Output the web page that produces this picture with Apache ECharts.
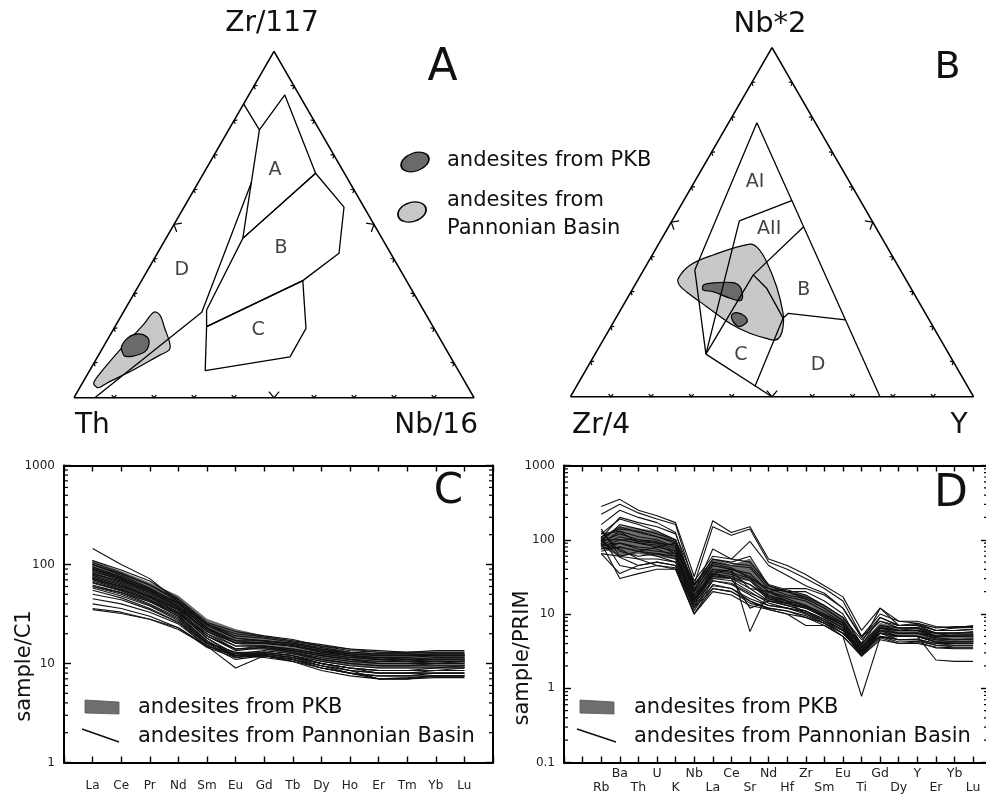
<!DOCTYPE html>
<html><head><meta charset="utf-8">
<script src="https://cdn.jsdelivr.net/npm/echarts@6/dist/echarts.min.js"></script>
<style>html,body{margin:0;padding:0;background:#fff}#c{width:986px;height:796px}</style>
</head><body><div id="c"></div>
<script>
// ---------- Panel A: Zr/117 - Th - Nb/16 (points as [Nb/16 %, Zr/117 %]) ----------
const triTicks = [10, 20, 30, 40, 50, 60, 70, 80, 90];
const aLineTop = [[0, 84.8], [7.7, 77.3]];
const aFieldA = [[7.7, 77.3], [9.0, 87.4], [28.0, 64.8], [19.2, 46.0], [7.7, 77.3]];
const aFieldB = [[19.2, 46.0], [28.0, 64.8], [40.0, 55.0], [45.4, 41.7], [40.3, 33.8], [22.9, 20.5], [20.5, 25.3], [19.2, 46.0]];
const aFieldC = [[22.9, 20.5], [40.3, 33.8], [48.0, 20.0], [48.1, 11.8], [28.9, 7.8], [22.9, 20.5]];
const aLineD = [[5.2, 0], [19.6, 24.7], [13.3, 62.1]];
const aPannonian = [[4.2, 3.0], [2.8, 4.3], [3.0, 7.0], [4.6, 13.8], [6.8, 21.0], [7.6, 24.7], [9.5, 23.9], [12.7, 20.0], [16.1, 15.7], [16.9, 13.8], [15.3, 12.3], [10.8, 8.0], [6.1, 4.2], [5.0, 3.0]];
const aPKB = [[5.8, 12.8], [4.5, 14.7], [4.9, 17.4], [6.9, 18.4], [9.4, 17.6], [10.9, 15.7], [11.1, 13.3], [8.8, 12.0], [6.7, 12.0]];
const aFieldNames = ['A', 'B', 'C', 'D'];
const aFieldPos = [[17.4, 65.7], [30.2, 43.1], [36.3, 19.5], [8.5, 36.9]];

// ---------- Panel B: Nb*2 - Zr/4 - Y (points as [Y %, Nb*2 %]) ----------
const bLeft = [[7.0, 78.5], [12.7, 36.3], [27.5, 12.2]];
const bRight = [[7.0, 78.5], [76.8, 0]];
const bAIAII = [[26.8, 56.2], [16.7, 50.4], [27.5, 12.2]];
const bAIIB = [[33.5, 48.7], [27.9, 34.9], [27.5, 12.2]];
const bBC = [[27.9, 34.9], [33.1, 31.1], [38.3, 25.8], [41.5, 22.5], [42.1, 23.9], [57.2, 22.0]];
const bCRight = [[41.5, 22.5], [44.3, 2.9]];
const bCBottom = [[27.5, 12.2], [50, 0]];
const bPannonian = [[9.8, 33.9], [10.8, 37.7], [15.1, 40.6], [22.6, 43.7], [25.3, 42.5], [29.3, 38.7], [35.4, 31.5], [40.8, 23.9], [42.7, 20.1], [43.4, 17.2], [42.6, 16.2], [40.3, 16.7], [35.4, 18.2], [29.1, 21.0], [20.9, 25.8], [13.7, 30.1], [11.0, 32.0]];
const bPKB1 = [[17.0, 32.0], [18.3, 32.5], [24.0, 32.7], [26.3, 31.5], [28.4, 28.6], [28.3, 27.5], [25.5, 28.2], [20.3, 30.1], [17.6, 30.6]];
const bPKB2 = [[28.3, 23.4], [29.1, 24.1], [31.7, 23.1], [33.1, 21.5], [32.6, 20.5], [31.6, 20.1], [29.6, 21.5]];
const bFieldNames = ['AI', 'AII', 'B', 'C', 'D'];
const bFieldPos = [[15.0, 61.6], [25.3, 48.0], [42.6, 30.6], [36.3, 11.9], [56.9, 9.1]];

// ---------- Panel C: REE normalised to C1 ----------
const cLabels = ['La', 'Ce', 'Pr', 'Nd', 'Sm', 'Eu', 'Gd', 'Tb', 'Dy', 'Ho', 'Er', 'Tm', 'Yb', 'Lu'];
const cPKBUpper = [110, 85, 65, 48, 28, 22, 19, 17, 15, 13, 12.5, 12.5, 12.5, 12.5];
const cPKBLower = [70, 55, 45, 35, 21, 16, 14, 12.5, 10.5, 9.5, 9, 9, 9, 9];
const cPannonian = [
  [145, 100, 72, 42, 25, 20, 18.5, 17, 15.5, 14, 13.5, 13, 13.5, 13.5],
  [110, 88, 68, 45, 26, 21, 19, 17.5, 15, 13.5, 13, 13, 13, 13],
  [105, 82, 62, 42, 24, 18, 17, 15.5, 14, 12.5, 12, 12, 12.5, 12.5],
  [100, 78, 58, 40, 22, 17, 16, 15, 13, 12, 11.5, 11.5, 12, 12],
  [95, 75, 56, 38, 21, 16, 16.5, 15, 13.5, 12, 11, 11, 11.5, 11.5],
  [90, 72, 54, 37, 21, 15, 15, 14, 12.5, 11.5, 11, 10.5, 11, 11],
  [85, 70, 52, 36, 20, 14, 15, 13.5, 12, 11, 10.5, 10.5, 10.5, 10.5],
  [82, 66, 50, 35, 19, 13.5, 14.5, 13, 11.5, 10.5, 10, 10, 10, 10.5],
  [78, 64, 48, 34, 19, 14, 14, 13, 11, 10, 9.5, 9.5, 10, 10],
  [75, 62, 47, 33, 18, 12.5, 13.5, 12.5, 11, 10, 9.5, 9.5, 9.5, 9.5],
  [72, 60, 46, 32, 18, 12, 13, 12, 10.5, 9.5, 9, 9, 9, 9.5],
  [70, 58, 44, 31, 17, 12, 13, 12, 10, 9, 8.5, 8.5, 9, 9],
  [68, 56, 43, 30, 17, 11.5, 12.5, 11.5, 10, 9, 8.5, 8.5, 8.5, 8.5],
  [65, 54, 42, 30, 16.5, 12, 12.5, 11.5, 9.5, 8.5, 8, 8, 8.5, 8.5],
  [62, 52, 40, 29, 16, 11.5, 12, 11, 9.5, 8.5, 8, 8, 8, 8],
  [60, 50, 39, 28, 16, 13, 12, 11, 9, 8, 7.5, 7.5, 8, 8],
  [58, 48, 38, 27, 15.5, 11, 12, 10.5, 9, 8, 7.5, 7.5, 7.5, 7.5],
  [55, 46, 36, 26, 15, 12, 11.5, 10.5, 8.5, 7.5, 7, 7, 7.5, 7.5],
  [50, 44, 35, 26, 16, 13, 13, 12, 10, 9, 8.5, 8.5, 8.5, 9],
  [45, 40, 33, 25, 15, 12.5, 12.5, 11.5, 10, 8.5, 7, 7.2, 7.5, 7.5],
  [40, 36, 30, 23, 15, 12, 12, 11, 9.5, 8, 7, 7, 7.2, 7.2],
  [35, 32, 28, 22, 15, 9, 12, 11, 9, 8, 7, 7, 7.5, 7.5],
  [36, 33, 28, 23, 14.5, 11.5, 12.5, 11.5, 10, 9, 8, 8, 8, 8],
  [88, 70, 55, 40, 25, 19, 18, 16.5, 15, 14, 13, 13, 13, 13],
  [80, 68, 52, 38, 23, 17, 17, 16, 14, 13, 12.5, 12.5, 12.5, 12.5],
  [72, 60, 48, 35, 22, 16, 16, 15, 13.5, 12.5, 12, 12, 12, 12],
  [66, 55, 44, 33, 20, 15, 15, 14, 12.5, 11.5, 11, 11, 11, 11],
  [60, 52, 42, 32, 19, 14, 14.5, 13.5, 12, 11, 10, 10, 10.5, 10.5],
  [100, 80, 62, 44, 25, 18, 17, 16, 14.5, 13, 12.5, 12.5, 12, 12],
  [92, 74, 57, 41, 23, 16, 16, 15, 13, 12, 11.5, 11, 11, 11]
];

// ---------- Panel D: trace elements normalised to primitive mantle ----------
const dLabels = ['Rb', 'Ba', 'Th', 'U', 'K', 'Nb', 'La', 'Ce', 'Sr', 'Nd', 'Hf', 'Zr', 'Sm', 'Eu', 'Ti', 'Gd', 'Dy', 'Y', 'Er', 'Yb', 'Lu'];
const dPKBUpper = [110, 150, 140, 130, 100, 25, 55, 45, 55, 24, 20, 18, 13, 9, 4, 7.5, 6.5, 6.5, 5.5, 5.5, 5.5];
const dPKBLower = [80, 60, 65, 60, 55, 15, 30, 30, 28, 15, 13, 12, 9, 6, 3, 5.5, 5, 5, 4.2, 4, 4];
const dPannonian = [
  [280, 350, 250, 210, 170, 32, 180, 125, 150, 55, 45, 34, 24, 17, 6, 12, 8, 8, 6.8, 6.5, 6.6],
  [220, 300, 230, 190, 160, 25, 150, 115, 140, 50, 40, 30, 22, 15, 5, 10, 8, 7.5, 6, 6, 6.2],
  [160, 250, 200, 170, 125, 20, 75, 55, 95, 45, 33, 24, 19, 12, 4.8, 9, 7, 7.2, 6, 6, 6.2],
  [120, 190, 160, 130, 100, 21, 50, 45, 42, 22, 18, 16, 12, 8.2, 3.6, 7, 6.5, 6.5, 5.6, 5.6, 5.6],
  [100, 150, 125, 110, 90, 18, 45, 40, 35, 20, 17, 15, 11, 7.5, 3.3, 6.5, 6, 6, 5, 5.2, 5.3],
  [90, 130, 110, 100, 80, 16, 40, 36, 30, 18, 15, 13, 10, 7, 3, 6.5, 5.5, 5.6, 5, 5, 5],
  [85, 110, 95, 90, 70, 15, 38, 34, 28, 17, 14, 12.5, 9.5, 7, 3, 6, 5.5, 5.5, 4.6, 4.5, 4.6],
  [80, 100, 90, 85, 65, 14, 35, 32, 25, 16, 14, 12, 9, 6.5, 2.8, 6, 5, 5, 4.5, 4.2, 4.2],
  [75, 90, 80, 75, 60, 13, 33, 30, 22, 15, 13, 11, 8.5, 6, 2.7, 5.5, 5, 5, 4.2, 4, 4],
  [70, 80, 70, 65, 55, 12, 30, 28, 20, 14, 12, 10.5, 8, 6, 2.8, 5.5, 4.5, 4.6, 4, 4, 4],
  [65, 60, 55, 55, 50, 11, 28, 25, 18, 13, 12, 10, 8, 5.5, 3, 5, 4.5, 4.5, 4, 3.8, 3.8],
  [100, 58, 45, 50, 45, 10, 25, 22, 15, 12, 11, 9.5, 7.5, 5.5, 3.2, 5, 4.2, 4.3, 3.8, 3.6, 3.6],
  [110, 45, 40, 45, 42, 12, 22, 20, 14, 12, 11, 9, 7.5, 5.5, 3, 5, 4.5, 4.5, 3.8, 3.8, 3.8],
  [90, 30, 35, 40, 40, 10, 20, 18, 13, 11.5, 10, 9, 7, 5, 2.8, 4.8, 4, 4, 3.6, 3.5, 3.5],
  [130, 70, 60, 65, 60, 15, 35, 30, 12, 15, 13, 11, 8.5, 6, 3, 5.5, 5, 5, 4.2, 4, 4],
  [95, 120, 100, 95, 75, 22, 45, 40, 5.8, 20, 16, 13, 9, 6.5, 3.2, 6, 5.5, 5.5, 4.8, 4.5, 4.6],
  [110, 140, 130, 110, 95, 25, 48, 42, 30, 22, 20, 20, 15, 10, 3.8, 9, 7, 7, 5.5, 5.5, 5.6],
  [100, 100, 100, 90, 85, 20, 40, 38, 22, 20, 22, 22, 18, 12, 5, 8, 6.5, 6.6, 5.5, 5, 5],
  [120, 130, 90, 80, 90, 18, 35, 40, 32, 20, 15, 10, 7.5, 5, 0.78, 4.8, 5, 5, 2.4, 2.3, 2.3],
  [85, 90, 75, 70, 65, 17, 32, 30, 25, 17, 15, 13, 10, 7.5, 4, 7, 6, 6.5, 5, 5, 5],
  [75, 80, 70, 60, 50, 14, 28, 26, 19, 15, 14, 12, 9.5, 7, 3.5, 6.5, 6, 6, 5.5, 5.5, 5.8],
  [95, 160, 140, 120, 100, 25, 55, 48, 45, 24, 20, 17, 13, 9, 4, 12, 7, 7.5, 6.5, 6.8, 6.8],
  [105, 200, 170, 150, 120, 28, 60, 55, 50, 25, 21, 18, 13, 9, 4.5, 8, 7, 7, 6, 6.5, 7],
  [88, 75, 55, 45, 40, 10, 22, 20, 15, 11.5, 10, 7, 7, 5, 2.7, 4.5, 4, 4.2, 3.5, 3.4, 3.4],
  [65, 35, 45, 50, 45, 13, 24, 22, 16, 13, 12, 11, 8, 6, 3.2, 5.5, 5, 5, 4.2, 4.2, 4.3],
  [140, 60, 70, 80, 70, 24, 55, 50, 60, 24, 20, 16, 12, 8, 3.5, 6.5, 6, 6, 5, 5, 5]
];

const legendTexts = ['andesites from PKB', 'andesites from', 'Pannonian Basin', 'andesites from Pannonian Basin'];
const axisNames = ['sample/C1', 'sample/PRIM'];

// ---------- helpers ----------
const FONT = 'DejaVu Sans';
const DARK = '#6a6a6a', LIGHT = '#c8c8c8', BAND = '#6e6e6e';
const S3 = Math.sqrt(3) / 2;
const cart = p => [p[0] + p[1] / 2, p[1] * S3];
const TRI = [[0, 0], [100, 0], [0, 100]];
const logFmt = v => (v >= 1 ? String(Math.round(v)) : String(v));

function polyLine(gi, pts, w) {
  return { type: 'line', xAxisIndex: gi, yAxisIndex: gi, data: pts.map(cart), symbol: 'none', clip: false,
    lineStyle: { color: '#000', width: w || 1.3 }, silent: true, z: 4 };
}
function blob(gi, pts, fill, z) {
  return { type: 'custom', xAxisIndex: gi, yAxisIndex: gi, data: [0], clip: false, silent: true, z: z,
    renderItem: (p, api) => ({ type: 'polygon', shape: { points: pts.map(q => api.coord(cart(q))), smooth: 0.35 },
      style: { fill: fill, stroke: '#000', lineWidth: 1.2 } }) };
}
function fieldLabels(gi, names, pos) {
  return { type: 'scatter', xAxisIndex: gi, yAxisIndex: gi, symbolSize: 1, itemStyle: { color: 'rgba(0,0,0,0)' }, silent: true, z: 6,
    data: pos.map((p, i) => ({ value: cart(p), name: names[i] })),
    label: { show: true, position: 'inside', formatter: '{b}', fontFamily: FONT, fontSize: 19, color: '#111' } };
}
function triTickSeries(gi) {
  const items = [];
  [0, 1, 2].forEach(e => triTicks.forEach(t => items.push([e, t])));
  return { type: 'custom', xAxisIndex: gi, yAxisIndex: gi, data: items.map((_, i) => i), clip: false, silent: true, z: 5,
    renderItem: (params, api) => {
      const [e, t] = items[params.dataIndex];
      const v1 = TRI[e], v2 = TRI[(e + 1) % 3];
      const tp = [v1[0] + (v2[0] - v1[0]) * t / 100, v1[1] + (v2[1] - v1[1]) * t / 100];
      const p = api.coord(cart(tp));
      const a = api.coord(cart(v1)), b = api.coord(cart(v2)), c = api.coord(cart([33.33, 33.33]));
      let dx = b[0] - a[0], dy = b[1] - a[1]; const L = Math.hypot(dx, dy); dx /= L; dy /= L;
      let nx = -dy, ny = dx;
      if (nx * (c[0] - p[0]) + ny * (c[1] - p[1]) < 0) { nx = -nx; ny = -ny; }
      const len = t === 50 ? 8 : 3.5, ang = 0.7;
      const r = s => [nx * Math.cos(s * ang) - ny * Math.sin(s * ang), nx * Math.sin(s * ang) + ny * Math.cos(s * ang)];
      const r1 = r(1), r2 = r(-1);
      return { type: 'polyline', shape: { points: [[p[0] + r1[0] * len, p[1] + r1[1] * len], p, [p[0] + r2[0] * len, p[1] + r2[1] * len]] },
        style: { stroke: '#000', lineWidth: 1.2, fill: null } };
    } };
}
function band(gi, upper, lower, x0) {
  const pts = upper.map((v, i) => [i + x0, v]).concat(lower.map((v, i) => [i + x0, v]).reverse());
  return { type: 'custom', xAxisIndex: gi, yAxisIndex: gi, data: [0], silent: true, z: 2,
    renderItem: (p, api) => ({ type: 'polygon', shape: { points: pts.map(q => api.coord(q)) },
      style: { fill: BAND, stroke: '#444', lineWidth: 0.6 } }) };
}
function spider(gi, rows, x0) {
  return rows.map(r => ({ type: 'line', xAxisIndex: gi, yAxisIndex: gi, data: r.map((v, i) => [i + x0, v]),
    symbol: 'none', silent: true, z: 3, lineStyle: { color: '#111', width: 1.1 } }));
}
function minorTicks(gi, xmin, xmax, lo, hi) {
  const vals = [];
  for (let d = lo; d < hi; d++) for (let k = 2; k <= 9; k++) vals.push(k * Math.pow(10, d));
  return { type: 'custom', xAxisIndex: gi, yAxisIndex: gi, data: vals.map((_, i) => i), silent: true, z: 7, clip: false,
    renderItem: (params, api) => {
      const v = vals[params.dataIndex];
      const a = api.coord([xmin, v]), b = api.coord([xmax, v]);
      return { type: 'group', children: [
        { type: 'line', shape: { x1: a[0], y1: a[1], x2: a[0] + 4, y2: a[1] }, style: { stroke: '#000', lineWidth: 1.2 } },
        { type: 'line', shape: { x1: b[0], y1: b[1], x2: b[0] - 4, y2: b[1] }, style: { stroke: '#000', lineWidth: 1.2 } }
      ] };
    } };
}

const frameLine = { show: true, onZero: false, lineStyle: { color: '#000', width: 2 } };
const tickIn = { show: true, inside: true, length: 6, lineStyle: { color: '#000', width: 1.4 } };

const xAxis = [
  { gridIndex: 0, type: 'value', min: 0, max: 100, show: false },
  { gridIndex: 1, type: 'value', min: 0, max: 100, show: false },
  { gridIndex: 2, type: 'value', min: 0, max: 15, interval: 1, position: 'bottom', axisLine: frameLine, axisTick: tickIn, splitLine: { show: false },
    axisLabel: { formatter: v => cLabels[v - 1] || '', fontFamily: FONT, fontSize: 12, color: '#222', margin: 17 } },
  { gridIndex: 2, type: 'value', min: 0, max: 15, interval: 1, position: 'top', axisLine: frameLine, axisTick: tickIn, splitLine: { show: false }, axisLabel: { show: false } },
  { gridIndex: 3, type: 'value', min: 0, max: 22.8, interval: 1, position: 'bottom', axisLine: frameLine, axisTick: tickIn, splitLine: { show: false },
    axisLabel: { formatter: v => { const i = v - 2; if (i < 0 || i >= dLabels.length) return ''; return i % 2 === 0 ? ' \n' + dLabels[i] : dLabels[i] + '\n '; },
      fontFamily: FONT, fontSize: 12.5, lineHeight: 14, color: '#222', margin: 4, showMaxLabel: false } },
  { gridIndex: 3, type: 'value', min: 0, max: 22.8, interval: 1, position: 'top', axisLine: frameLine, axisTick: tickIn, splitLine: { show: false }, axisLabel: { show: false } }
];
const yAxis = [
  { gridIndex: 0, type: 'value', min: 0, max: 100 * S3, show: false },
  { gridIndex: 1, type: 'value', min: 0, max: 100 * S3, show: false },
  { gridIndex: 2, type: 'log', logBase: 10, min: 1, max: 1000, position: 'left', axisLine: frameLine, axisTick: Object.assign({}, tickIn, { length: 7 }), splitLine: { show: false },
    axisLabel: { formatter: logFmt, fontFamily: FONT, fontSize: 12, color: '#222', margin: 9 } },
  { gridIndex: 2, type: 'log', logBase: 10, min: 1, max: 1000, position: 'right', axisLine: frameLine, axisTick: Object.assign({}, tickIn, { length: 7 }), splitLine: { show: false }, axisLabel: { show: false } },
  { gridIndex: 3, type: 'log', logBase: 10, min: 0.1, max: 1000, position: 'left', axisLine: frameLine, axisTick: Object.assign({}, tickIn, { length: 7 }), splitLine: { show: false },
    axisLabel: { formatter: logFmt, fontFamily: FONT, fontSize: 12, color: '#222', margin: 9 } },
  { gridIndex: 3, type: 'log', logBase: 10, min: 0.1, max: 1000, position: 'right', axisLine: frameLine, axisTick: Object.assign({}, tickIn, { length: 7 }), splitLine: { show: false }, axisLabel: { show: false } }
];
const grid = [
  { left: 74, top: 51.3, width: 400, height: 400 * S3, outerBoundsMode: 'none' },
  { left: 570.5, top: 47.7, width: 403, height: 403 * S3, outerBoundsMode: 'none' },
  { left: 64, top: 465.5, width: 429, height: 297, outerBoundsMode: 'none' },
  { left: 564, top: 465.5, width: 424, height: 297, outerBoundsMode: 'none' }
];

const series = [
  // Panel A
  blob(0, aPannonian, LIGHT, 2), blob(0, aPKB, DARK, 3),
  polyLine(0, [TRI[0], TRI[1], TRI[2], TRI[0]], 1.6),
  polyLine(0, aLineTop), polyLine(0, aFieldA), polyLine(0, aFieldB), polyLine(0, aFieldC), polyLine(0, aLineD),
  triTickSeries(0), fieldLabels(0, aFieldNames, aFieldPos),
  // Panel B
  blob(1, bPannonian, LIGHT, 2), blob(1, bPKB1, DARK, 3), blob(1, bPKB2, DARK, 3),
  polyLine(1, [TRI[0], TRI[1], TRI[2], TRI[0]], 1.6),
  polyLine(1, bLeft), polyLine(1, bRight), polyLine(1, bAIAII), polyLine(1, bAIIB), polyLine(1, bBC), polyLine(1, bCRight), polyLine(1, bCBottom),
  triTickSeries(1), fieldLabels(1, bFieldNames, bFieldPos),
  // Panel C
  band(2, cPKBUpper, cPKBLower, 1), ...spider(2, cPannonian, 1), minorTicks(2, 0, 15, 0, 3),
  // Panel D
  band(4, dPKBUpper, dPKBLower, 2), ...spider(4, dPannonian, 2), minorTicks(4, 0, 22.8, -1, 3)
];

function txt(text, x, y, size, align, extra) {
  return Object.assign({ type: 'text', x: x, y: y, z: 20, silent: true,
    style: { text: text, fontFamily: FONT, fontSize: size, fill: '#111', textAlign: align || 'center', textVerticalAlign: 'middle', verticalAlign: 'middle' } }, extra || {});
}
const graphic = [
  txt('Zr/117', 272, 24, 28), txt('Th', 75, 426, 28, 'left'), txt('Nb/16', 478, 426, 28, 'right'),
  txt('Nb*2', 770, 24, 29), txt('Zr/4', 572, 426, 28, 'left'), txt('Y', 959, 426, 28),
  txt('A', 442.5, 68.5, 44), txt('B', 947.5, 68.5, 38), txt('C', 448.5, 492.5, 42), txt('D', 951, 495, 44),
  // rotated axis names
  txt(axisNames[0], 25, 666, 21, 'center', { rotation: Math.PI / 2 }),
  txt(axisNames[1], 523, 658, 21, 'center', { rotation: Math.PI / 2 }),
  // legend in A/B
  { type: 'circle', x: 415, y: 162, scaleX: 1.2, scaleY: 0.75, rotation: 0.35, z: 20, shape: { cx: 0, cy: 0, r: 12 }, style: { fill: DARK, stroke: '#000', lineWidth: 1.5 } },
  { type: 'circle', x: 412, y: 212, scaleX: 1.2, scaleY: 0.8, rotation: 0.3, z: 20, shape: { cx: 0, cy: 0, r: 12 }, style: { fill: LIGHT, stroke: '#000', lineWidth: 1.5 } },
  txt(legendTexts[0], 447, 161, 21, 'left'), txt(legendTexts[1], 447, 201, 21, 'left'), txt(legendTexts[2], 447, 229, 21, 'left'),
  // legend in C
  { type: 'polygon', z: 20, shape: { points: [[85, 700], [119, 702], [119, 714], [85, 713]] }, style: { fill: BAND, stroke: '#555', lineWidth: 0.8 } },
  { type: 'line', z: 20, shape: { x1: 82, y1: 729, x2: 119, y2: 742 }, style: { stroke: '#111', lineWidth: 1.6 } },
  txt(legendTexts[0], 138, 708, 21, 'left'), txt(legendTexts[3], 138, 737, 21, 'left'),
  // legend in D
  { type: 'polygon', z: 20, shape: { points: [[580, 700], [614, 702], [614, 714], [580, 713]] }, style: { fill: BAND, stroke: '#555', lineWidth: 0.8 } },
  { type: 'line', z: 20, shape: { x1: 577, y1: 729, x2: 616, y2: 742 }, style: { stroke: '#111', lineWidth: 1.6 } },
  txt(legendTexts[0], 634, 708, 21, 'left'), txt(legendTexts[3], 634, 737, 21, 'left')
];

const chart = echarts.init(document.getElementById('c'), null, { renderer: 'canvas' });
chart.setOption({ animation: false, backgroundColor: '#fff', textStyle: { fontFamily: FONT },
  grid: grid, xAxis: xAxis, yAxis: yAxis, series: series, graphic: graphic });
</script></body></html>
